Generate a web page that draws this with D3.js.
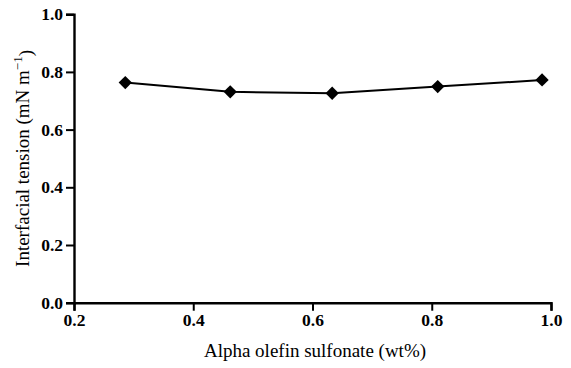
<!DOCTYPE html>
<html><head><meta charset="utf-8">
<script src="https://cdn.jsdelivr.net/npm/d3@7"></script>
</head><body style="margin:0">
<script>
const xValues = [0.286, 0.462, 0.633, 0.810, 0.985];
const yValues = [0.763, 0.731, 0.726, 0.749, 0.772];
const xTicks = [0.2, 0.4, 0.6, 0.8, 1.0];
const yTicks = [0.0, 0.2, 0.4, 0.6, 0.8, 1.0];
const xTitle = "Alpha olefin sulfonate (wt%)";

const W = 571, H = 368;
const FONT = '"Liberation Serif"';
const svg = d3.select("body").append("svg").attr("width", W).attr("height", H)
  .style("display", "block").style("font-family", FONT);
const x = d3.scaleLinear().domain([0.2, 1.0]).range([74, 551]);
const y = d3.scaleLinear().domain([0, 1]).range([302.7, 14.2]);

const gx = svg.append("g").attr("transform", `translate(0,${y(0)})`)
  .call(d3.axisBottom(x).tickValues(xTicks).tickFormat(d3.format(".1f")).tickSizeOuter(0).tickSize(8));
const gy = svg.append("g").attr("transform", `translate(${x(0.2)},0)`)
  .call(d3.axisLeft(y).tickValues(yTicks).tickFormat(d3.format(".1f")).tickSizeOuter(0).tickSize(8));
[gx, gy].forEach(g => {
  g.attr("font-family", null).attr("font-size", null);
  g.select(".domain").attr("stroke", "#000").attr("stroke-width", 2.4);
  g.selectAll(".tick line").attr("stroke", "#000").attr("stroke-width", 2);
  g.selectAll("text").style("font-family", FONT).style("font-size", "17.5px").style("font-weight", "bold").attr("fill", "#000");
});

svg.append("path").datum(xValues.map((v, i) => [v, yValues[i]]))
  .attr("fill", "none").attr("stroke", "#000").attr("stroke-width", 2)
  .attr("d", d3.line().x(d => x(d[0])).y(d => y(d[1])));

svg.selectAll(".pt").data(xValues).enter().append("path")
  .attr("transform", (d, i) => `translate(${x(d)},${y(yValues[i])}) rotate(45)`)
  .attr("d", "M-4.7,-4.7H4.7V4.7H-4.7Z").attr("fill", "#000");

svg.append("text").attr("x", 315).attr("y", 357)
  .attr("text-anchor", "middle").style("font-family", FONT).style("font-size", "19px").attr("fill", "#000")
  .text(xTitle);

const yl = svg.append("text").attr("transform", `translate(29,${(y(0) + y(1)) / 2}) rotate(-90)`)
  .attr("text-anchor", "middle").style("font-family", FONT).style("font-size", "19px").attr("fill", "#000");
yl.append("tspan").text("Interfacial tension (mN m");
yl.append("tspan").attr("dy", "-0.55em").style("font-size", "13px").text("\u22121");
yl.append("tspan").attr("dy", "0.55em").text(")");
</script>
</body></html>
